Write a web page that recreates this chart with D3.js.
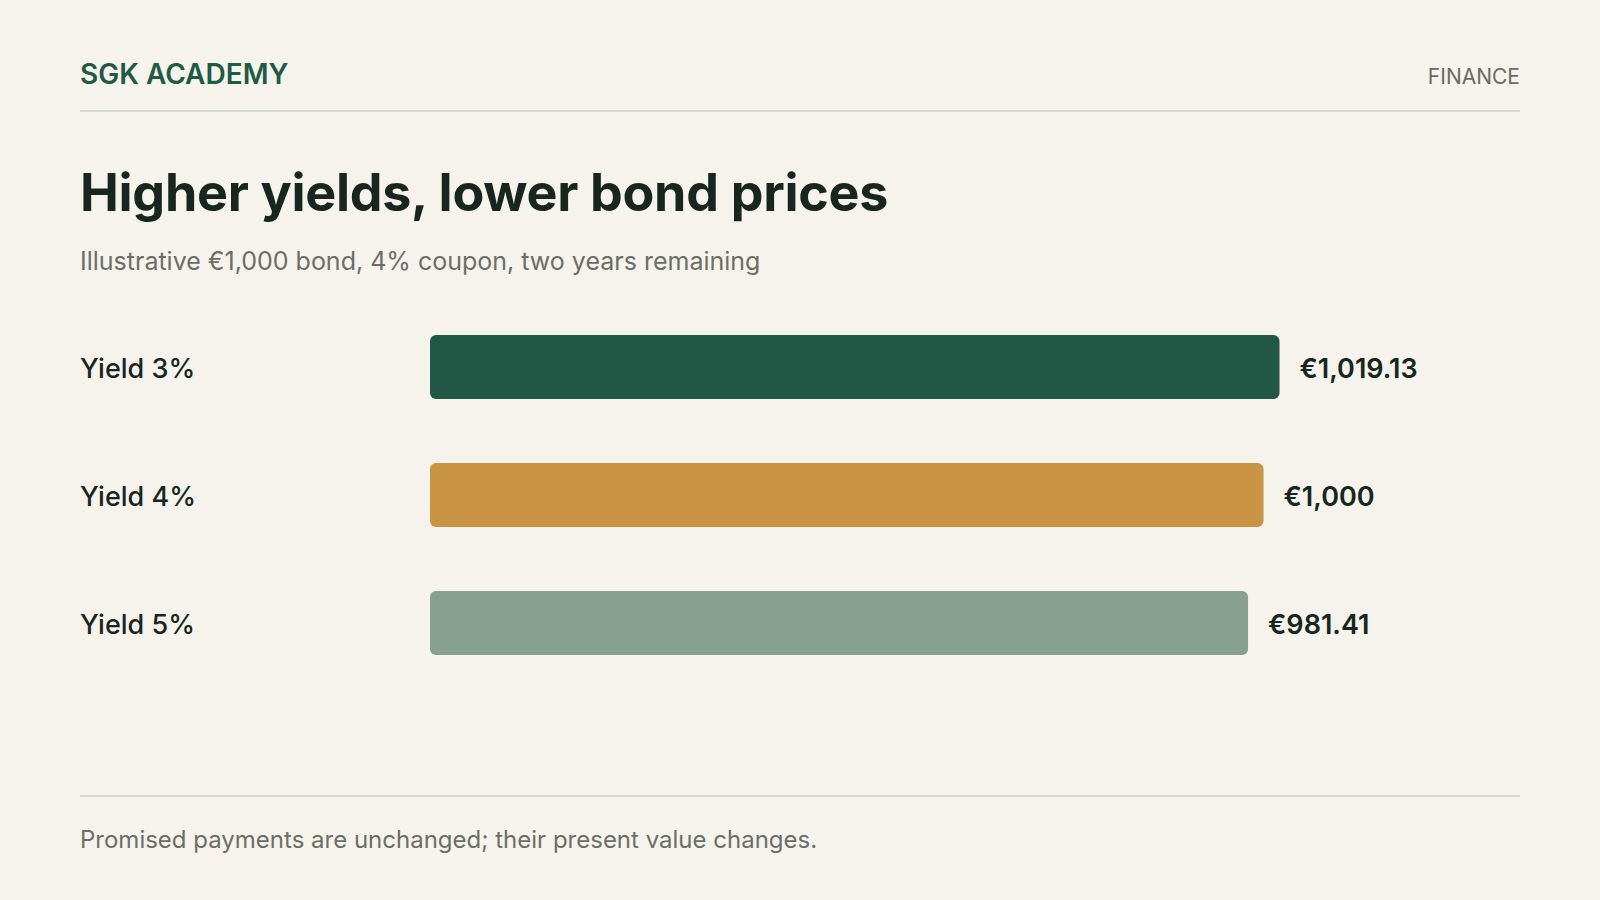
<!DOCTYPE html>
<html>
<head>
<meta charset="utf-8">
<script src="https://cdn.jsdelivr.net/npm/d3@7"></script>
<style>
  html, body { margin: 0; padding: 0; background: #f6f3ec; }
  svg { display: block; font-family: Inter, "Noto Sans", sans-serif; }
</style>
</head>
<body>
<svg id="chart" width="1600" height="900"></svg>
<script>
const categories = ["Yield 3%", "Yield 4%", "Yield 5%"];
const prices = [1019.13, 1000, 981.41];
const priceLabels = ["€1,019.13", "€1,000", "€981.41"];
const barColors = ["#215845", "#c99443", "#88a090"];

const brand = "SGK ACADEMY";
const section = "FINANCE";
const title = "Higher yields, lower bond prices";
const subtitle = "Illustrative €1,000 bond, 4% coupon, two years remaining";
const footnote = "Promised payments are unchanged; their present value changes.";

const W = 1600, H = 900, left = 80, right = 1520;
const svg = d3.select("#chart");

svg.append("rect").attr("width", W).attr("height", H).attr("fill", "#f6f3ec");

svg.append("text").attr("x", left).attr("y", 84)
  .attr("font-size", 28).attr("font-weight", 600).attr("fill", "#1f5a43")
  .text(brand);
svg.append("text").attr("x", right).attr("y", 84).attr("text-anchor", "end")
  .attr("font-size", 21).attr("font-weight", 400).attr("fill", "#676c63")
  .text(section);
svg.append("line").attr("x1", left).attr("x2", right).attr("y1", 111).attr("y2", 111)
  .attr("stroke", "#ccd2c7").attr("stroke-width", 1.6);

svg.append("text").attr("x", left).attr("y", 211)
  .attr("font-size", 52).attr("font-weight", 700).attr("fill", "#17261f")
  .attr("letter-spacing", "-0.3")
  .text(title);
svg.append("text").attr("x", left).attr("y", 270)
  .attr("font-size", 25).attr("font-weight", 400).attr("fill", "#6b6e66")
  .text(subtitle);

const x = d3.scaleLinear().domain([0, d3.max(prices)]).range([430, 1279.5]);
const y = d3.scaleBand().domain(categories).range([303, 687]).paddingInner(0.5).paddingOuter(0.25);

const rows = svg.append("g").selectAll("g").data(categories).join("g");

rows.append("rect")
  .attr("x", x(0))
  .attr("y", d => y(d))
  .attr("width", (d, i) => x(prices[i]) - x(0))
  .attr("height", y.bandwidth())
  .attr("rx", 6).attr("ry", 6)
  .attr("fill", (d, i) => barColors[i]);

rows.append("text")
  .attr("x", left)
  .attr("y", d => y(d) + y.bandwidth() / 2)
  .attr("dy", "0.4em")
  .attr("font-size", 27).attr("font-weight", 500).attr("fill", "#17261f")
  .text(d => d);

rows.append("text")
  .attr("x", (d, i) => x(prices[i]) + 20)
  .attr("y", d => y(d) + y.bandwidth() / 2)
  .attr("dy", "0.4em")
  .attr("font-size", 27).attr("font-weight", 600).attr("fill", "#17261f")
  .text((d, i) => priceLabels[i]);

svg.append("line").attr("x1", left).attr("x2", right).attr("y1", 796).attr("y2", 796)
  .attr("stroke", "#ccd2c7").attr("stroke-width", 1.6);
svg.append("text").attr("x", left).attr("y", 848)
  .attr("font-size", 24).attr("font-weight", 400).attr("fill", "#6b6e66")
  .text(footnote);
</script>
</body>
</html>
